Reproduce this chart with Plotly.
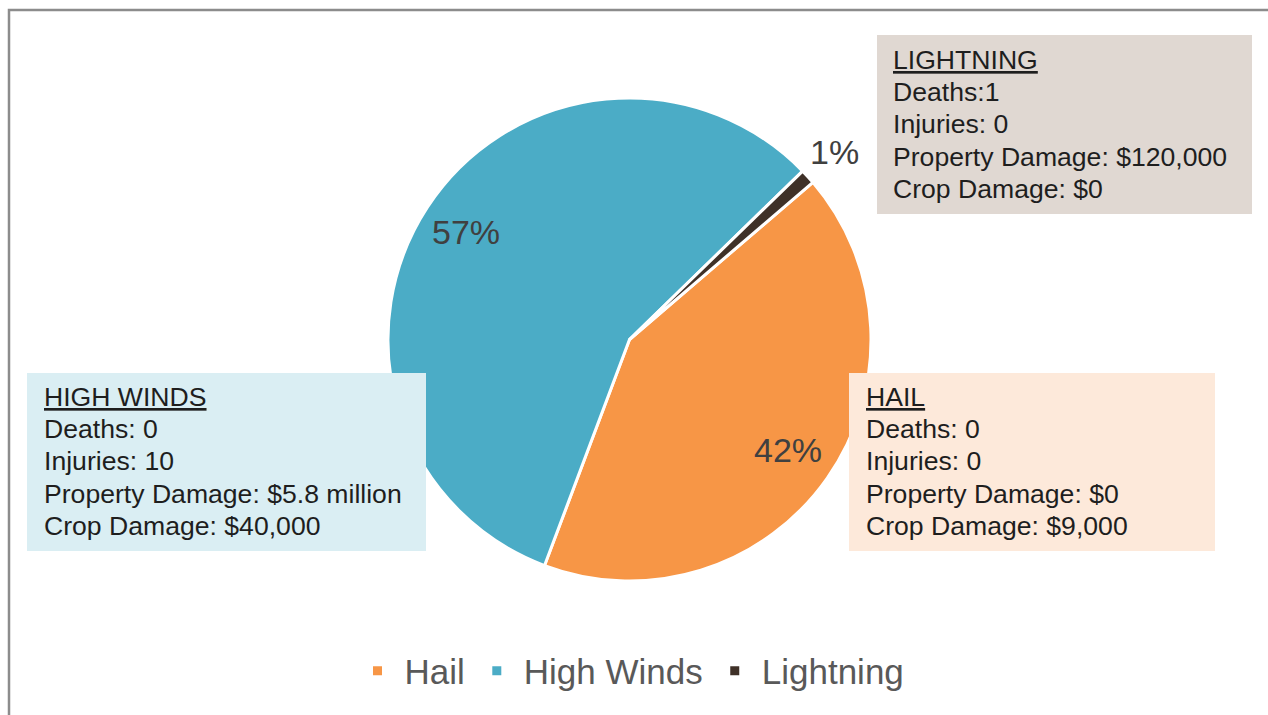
import math
import plotly.graph_objects as go

# ---- data ----
categories = ["Hail", "High Winds", "Lightning"]
shares = [42, 57, 1]

box_titles = ["HAIL", "HIGH WINDS", "LIGHTNING"]
deaths = ["Deaths: 0", "Deaths: 0", "Deaths:1"]
injuries = ["Injuries: 0", "Injuries: 10", "Injuries: 0"]
property_damage = ["Property Damage: $0", "Property Damage: $5.8 million", "Property Damage: $120,000"]
crop_damage = ["Crop Damage: $9,000", "Crop Damage: $40,000", "Crop Damage: $0"]

# ---- styles ----
W, H = 1268, 715
slice_colors = ["#F79646", "#4BACC6", "#3F3128"]
box_fill = ["#FDE9DA", "#DAEEF3", "#E0D8D2"]
# box geometry in pixels: (x0, y0, x1, y1), text x, first line y
box_px = [(849, 373, 1215, 551, 864, 397),
          (27, 373, 426, 551, 42, 397),
          (877, 35, 1252, 214, 891, 60)]
line_step = 32.2
label_radius = [0.8, 0.81, 1.15]
FONT = "Liberation Sans, Arial, sans-serif"
ROTATION = 49.4


def px(x):
    return x / W


def py(y):
    return 1 - y / H


cx, cy, r = 629.5, 339.5, 241.5

fig = go.Figure(go.Pie(
    labels=categories,
    values=shares,
    sort=False,
    direction="clockwise",
    rotation=ROTATION,
    marker=dict(colors=slice_colors, line=dict(color="white", width=3)),
    textinfo="none",
    domain=dict(x=[px(cx - r), px(cx + r)], y=[py(cy + r), py(cy - r)]),
    hoverinfo="label+percent",
))

shapes = [dict(type="rect", xref="paper", yref="paper",
               x0=px(9), x1=px(1290), y0=py(740), y1=py(10),
               line=dict(color="#8C8C8C", width=2.5), fillcolor="rgba(0,0,0,0)", layer="above")]
annotations = []

# percentage labels derived from the values
total = sum(shares)
start = ROTATION
for i, v in enumerate(shares):
    span = v / total * 360
    mid = math.radians(start + span / 2)
    start += span
    lx = cx + label_radius[i] * r * math.sin(mid)
    ly = cy - label_radius[i] * r * math.cos(mid)
    annotations.append(dict(xref="paper", yref="paper", x=px(lx), y=py(ly),
                            xanchor="center", yanchor="middle", showarrow=False,
                            text=f"{round(v / total * 100)}%",
                            font=dict(family=FONT, size=34, color="#404040")))

for i in range(len(categories)):
    x0, y0, x1, y1, tx, ty = box_px[i]
    shapes.append(dict(type="rect", xref="paper", yref="paper",
                       x0=px(x0), x1=px(x1), y0=py(y1), y1=py(y0),
                       line=dict(width=0), fillcolor=box_fill[i], layer="above"))
    lines = ["<u>" + box_titles[i] + "</u>", deaths[i], injuries[i], property_damage[i], crop_damage[i]]
    for k, t in enumerate(lines):
        annotations.append(dict(xref="paper", yref="paper", x=px(tx), y=py(ty + k * line_step),
                                xanchor="left", yanchor="middle", showarrow=False, text=t,
                                font=dict(family=FONT, size=26.6, color="#1E1E1E")))

fig.update_layout(
    width=W, height=H,
    margin=dict(l=0, r=0, t=0, b=0),
    paper_bgcolor="white", plot_bgcolor="white",
    showlegend=True,
    legend=dict(orientation="h", x=px(630), xanchor="center", y=py(671), yanchor="middle",
                itemwidth=44,
                font=dict(family=FONT, size=35, color="#595959")),
    shapes=shapes,
    annotations=annotations,
)

fig.write_html("out.html", config={"displayModeBar": False},
               post_script="document.body.style.margin='0px';")
